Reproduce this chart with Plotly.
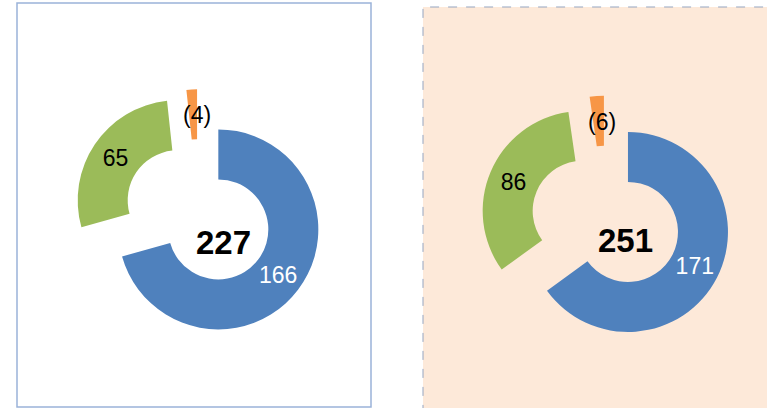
import plotly.graph_objects as go

# ---- data ----
categories = ["Item 1", "Item 2", "Item 3"]
left_values = [166, 65, -4]
right_values = [171, 86, -6]

slice_colors = ["#4f81bd", "#9bbb59", "#f79646"]
label_colors = ["white", "black", "black"]

W, H = 767, 408
FONT = "Liberation Sans, Arial, sans-serif"


def fmt(v):
    return f"({abs(v)})" if v < 0 else str(v)


def px_x(p):
    return p / W


def px_y(p):
    return 1 - p / H


def donut(values, cx, cy):
    half = 125
    return go.Pie(
        labels=categories,
        values=[abs(v) for v in values],
        text=[fmt(v) for v in values],
        textinfo="text",
        textposition=["inside", "inside", "none"],
        insidetextorientation="horizontal",
        textfont=dict(family=FONT, size=23, color=label_colors),
        hole=0.5,
        pull=[0.25] * len(values),
        sort=False,
        direction="clockwise",
        rotation=0,
        marker=dict(colors=slice_colors, line=dict(width=0)),
        showlegend=False,
        domain=dict(x=[px_x(cx - half), px_x(cx + half)], y=[px_y(cy + half), px_y(cy - half)]),
    )


fig = go.Figure()
fig.add_trace(donut(left_values, 198.4, 214.3))
fig.add_trace(donut(right_values, 605.7, 220.6))

shapes = [
    dict(type="rect", xref="paper", yref="paper", layer="below",
         x0=px_x(17), x1=px_x(371), y0=px_y(407), y1=px_y(3),
         line=dict(color="#9bb3d9", width=1.5), fillcolor="white"),
    dict(type="rect", xref="paper", yref="paper", layer="below",
         x0=px_x(423), x1=1.05, y0=-0.05, y1=px_y(7),
         line=dict(color="#95a5c0", width=1, dash="dash"), fillcolor="#fde9d9"),
]


def center_label(values, x, y):
    return dict(text=f"<b>{sum(values)}</b>", x=px_x(x), y=px_y(y), xref="paper", yref="paper",
                showarrow=False, xanchor="center", yanchor="middle",
                font=dict(family=FONT, size=33, color="black"))


def small_label(value, x, y):
    return dict(text=fmt(value), x=px_x(x), y=px_y(y), xref="paper", yref="paper",
                showarrow=False, xanchor="center", yanchor="middle",
                font=dict(family=FONT, size=23, color="black"))


annotations = [
    center_label(left_values, 224, 242),
    center_label(right_values, 625.5, 240),
    small_label(left_values[2], 197, 115),
    small_label(right_values[2], 602, 122),
]

fig.update_layout(
    width=W, height=H,
    margin=dict(l=0, r=0, t=0, b=0),
    paper_bgcolor="white",
    plot_bgcolor="white",
    shapes=shapes,
    annotations=annotations,
)

fig.write_html("out.html", config={"displayModeBar": False},
               post_script="document.body.style.margin='0px';")
